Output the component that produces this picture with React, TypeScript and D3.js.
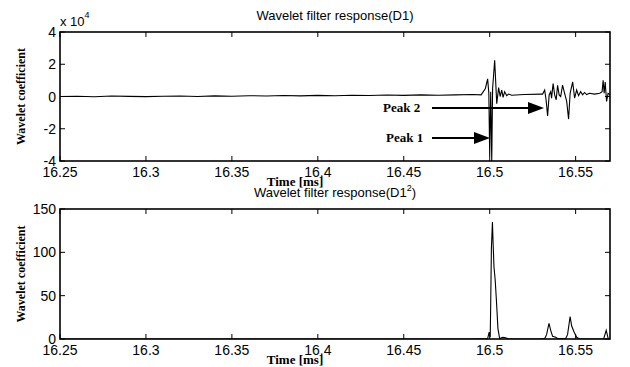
import React from "react";
import * as d3 from "d3";

// ---- data ----
const xTicks = [16.25, 16.3, 16.35, 16.4, 16.45, 16.5, 16.55];
const xTickLabels = ["16.25", "16.3", "16.35", "16.4", "16.45", "16.5", "16.55"];
const topYTicks = [-4, -2, 0, 2, 4];
const bottomYTicks = [0, 50, 100, 150];

// D1 (x 10^4)
const d1Time = [
  16.25, 16.26, 16.27, 16.28, 16.29, 16.3, 16.31, 16.32, 16.33, 16.34, 16.35, 16.36, 16.37, 16.38,
  16.39, 16.4, 16.41, 16.42, 16.43, 16.44, 16.45, 16.46, 16.47, 16.48, 16.49, 16.495, 16.4975,
  16.4988, 16.4995, 16.5, 16.5006, 16.5012, 16.5017, 16.5029, 16.5041, 16.5052, 16.5061, 16.507,
  16.5078, 16.5087, 16.5099, 16.511, 16.5128, 16.52, 16.53, 16.5308, 16.532, 16.5328, 16.5337,
  16.5346, 16.5355, 16.536, 16.5369, 16.5378, 16.5387, 16.5395, 16.5404, 16.5413, 16.5424,
  16.5436, 16.5448, 16.5459, 16.5468, 16.5483, 16.5494, 16.5506, 16.5517, 16.5529, 16.5541,
  16.5552, 16.5564, 16.5581, 16.561, 16.564, 16.5654, 16.566, 16.5666, 16.5672, 16.568, 16.5689,
  16.57,
];
const d1Value = [
  0.0, 0.02, -0.02, 0.03, 0.01, -0.01, 0.02, 0.03, 0.0, 0.04, 0.02, 0.05, 0.03, 0.06, 0.04, 0.07,
  0.05, 0.08, 0.06, 0.09, 0.07, 0.1, 0.08, 0.1, 0.12, 0.1, 0.5, 1.1, 0.2, -3.7, 0.3, -4.0, 0.5,
  2.25, -0.45, 0.55, 0.0, 0.4, -0.05, 0.3, 0.05, 0.15, 0.08, 0.12, 0.15, 0.15, 0.4, -0.2, -1.2,
  0.1, 0.3, -0.1, 0.8, 0.1, -0.2, 0.7, 0.1, 0.0, 0.7, 0.2, -0.3, -1.4, 0.2, 0.9, -0.1, 0.4, 0.05,
  0.3, 0.1, 0.25, 0.12, 0.2, 0.15, 0.2, 0.3, 1.0, 0.2, 0.9, -0.3, 0.2, 0.1,
];

// D1^2
const d1sqTime = [
  16.25, 16.49, 16.4988, 16.4997, 16.5003, 16.5006, 16.501, 16.5016, 16.502, 16.5025, 16.5032,
  16.5039, 16.5048, 16.5058, 16.5076, 16.5093, 16.511, 16.529, 16.532, 16.5331, 16.5345, 16.5355,
  16.5366, 16.5384, 16.5395, 16.5442, 16.5453, 16.5468, 16.5477, 16.5491, 16.5506, 16.5523,
  16.5663, 16.5678, 16.5689, 16.57,
];
const d1sqValue = [
  0, 0, 0.5, 8, 2, 41, 105, 135, 110, 83, 68, 45, 12, 0.5, 2, 1.5, 0, 0, 0.5, 5, 18, 10, 3, 2, 0.5,
  0.5, 5, 26, 15, 8, 2, 0, 0, 10, 1, 0,
];

const W = 630;
const H = 367;
const L = 60;
const R = 610;

const serif = "'Liberation Serif', 'DejaVu Serif', serif";
const sans = "'Liberation Sans', Arial, sans-serif";

function Panel({
  top,
  bottom,
  yDomain,
  yTicks,
  times,
  values,
}: {
  top: number;
  bottom: number;
  yDomain: [number, number];
  yTicks: number[];
  times: number[];
  values: number[];
}) {
  const x = d3.scaleLinear().domain([16.25, 16.57]).range([L, R]);
  const y = d3.scaleLinear().domain(yDomain).range([bottom, top]);
  const line = d3
    .line<number>()
    .x((_, i) => x(times[i]))
    .y((v) => y(v));
  const tl = 5;
  return (
    <g>
      <defs>
        <clipPath id={`clip${top}`}>
          <rect x={L} y={top} width={R - L} height={bottom - top} />
        </clipPath>
      </defs>
      <path
        d={line(values) || ""}
        fill="none"
        stroke="#000"
        strokeWidth={1.1}
        clipPath={`url(#clip${top})`}
      />
      <rect x={L} y={top} width={R - L} height={bottom - top} fill="none" stroke="#000" strokeWidth={1.6} />
      {xTicks.map((t, i) => (
        <g key={i}>
          <line x1={x(t)} x2={x(t)} y1={bottom} y2={bottom - tl} stroke="#000" strokeWidth={1} />
          <line x1={x(t)} x2={x(t)} y1={top} y2={top + tl} stroke="#000" strokeWidth={1} />
          <text x={x(t)} y={bottom + 16} fontFamily={sans} fontSize={14} textAnchor="middle" fill="#000">
            {xTickLabels[i]}
          </text>
        </g>
      ))}
      {yTicks.map((t, i) => (
        <g key={i}>
          <line x1={L} x2={L + tl} y1={y(t)} y2={y(t)} stroke="#000" strokeWidth={1} />
          <line x1={R} x2={R - tl} y1={y(t)} y2={y(t)} stroke="#000" strokeWidth={1} />
          <text x={L - 4} y={y(t) + 5} fontFamily={sans} fontSize={14} textAnchor="end" fill="#000">
            {String(t)}
          </text>
        </g>
      ))}
      <text
        transform={`translate(25,${(top + bottom) / 2}) rotate(-90)`}
        fontFamily={serif}
        fontWeight="bold"
        fontSize={12}
        textAnchor="middle"
        fill="#000"
      >
        Wavelet coefficient
      </text>
      <text x={295} y={bottom + 25} fontFamily={serif} fontWeight="bold" fontSize={13} textAnchor="middle" fill="#000">
        Time [ms]
      </text>
    </g>
  );
}

function Arrow({ x1, x2, y }: { x1: number; x2: number; y: number }) {
  const head = 16;
  return (
    <g>
      <line x1={x1} x2={x2 - head + 2} y1={y} y2={y} stroke="#000" strokeWidth={2.2} />
      <path d={`M${x2},${y} L${x2 - head},${y - 6} L${x2 - head},${y + 6} Z`} fill="#000" />
    </g>
  );
}

export default function App() {
  return (
    <svg width={W} height={H} style={{ display: "block", position: "absolute", left: 0, top: 0 }}>
      <rect width={W} height={H} fill="#fff" />
      <text x={335} y={20} fontFamily={sans} fontSize={13} textAnchor="middle" fill="#000">
        Wavelet filter response(D1)
      </text>
      <text x={60} y={26} fontFamily={sans} fontSize={13} fill="#000">
        x 10
        <tspan dy={-8} fontSize={9}>4</tspan>
      </text>
      <Panel top={32} bottom={161} yDomain={[-4, 4]} yTicks={topYTicks} times={d1Time} values={d1Value} />
      <text x={335} y={197} fontFamily={sans} fontSize={13} textAnchor="middle" fill="#000">
        Wavelet filter response(D1
        <tspan dy={-6} fontSize={9}>2</tspan>
        <tspan dy={6}>)</tspan>
      </text>
      <Panel top={209} bottom={339} yDomain={[0, 150]} yTicks={bottomYTicks} times={d1sqTime} values={d1sqValue} />
      <text x={383} y={112} fontFamily={serif} fontWeight="bold" fontSize={13} fill="#000">
        Peak 2
      </text>
      <Arrow x1={432} x2={544} y={108} />
      <text x={386} y={142} fontFamily={serif} fontWeight="bold" fontSize={13} fill="#000">
        Peak 1
      </text>
      <Arrow x1={432} x2={490} y={138} />
    </svg>
  );
}
